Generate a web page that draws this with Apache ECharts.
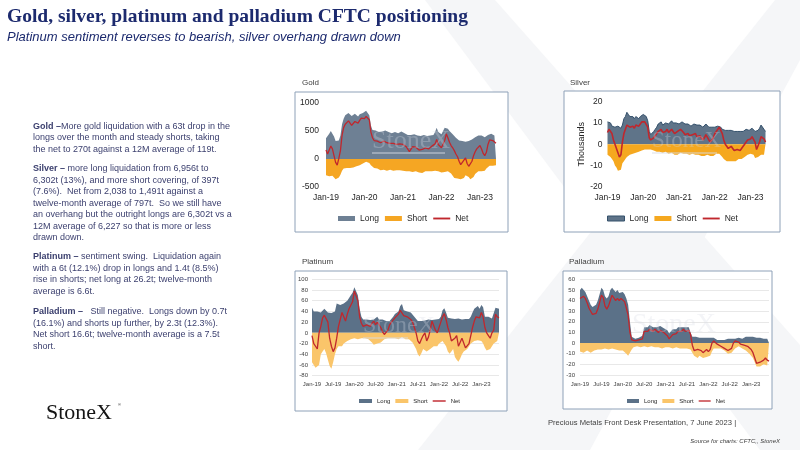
<!DOCTYPE html>
<html><head><meta charset="utf-8">
<script src="https://cdn.jsdelivr.net/npm/echarts@6/dist/echarts.min.js"></script>
<style>html,body{margin:0;padding:0;background:#fff}#c{width:800px;height:450px}</style>
</head><body><div id="c"></div>
<script>
// ---------- categories (semi-monthly, Jan-2019 .. Jun-2023) ----------
const monthNames = ['Jan','Feb','Mar','Apr','May','Jun','Jul','Aug','Sep','Oct','Nov','Dec'];
const categories = [];
for (let y = 19; y <= 23; y++) {
  for (let m = 0; m < 12; m++) {
    if (y === 23 && m > 5) break;
    categories.push(monthNames[m] + '-' + y);
    if (!(y === 23 && m === 5)) categories.push(monthNames[m] + '-' + y + ' b');
  }
}
const yearTicks = ['Jan-19','Jan-20','Jan-21','Jan-22','Jan-23'];
const halfYearTicks = ['Jan-19','Jul-19','Jan-20','Jul-20','Jan-21','Jul-21','Jan-22','Jul-22','Jan-23'];

// ---------- Gold (tonnes) ----------
const goldLong = [
  370,390,450,500,470,400,320,300,330,420,620,720,780,760,820,800,770,780,810,790,760,800,830,820,
  850,860,840,780,600,520,500,510,490,480,470,490,500,510,490,480,470,460,490,480,470,460,480,490,
  470,460,440,430,420,430,450,440,430,420,400,410,420,430,420,410,400,420,450,430,480,560,480,460,
  440,460,560,590,540,500,470,440,410,380,350,330,340,320,300,310,300,320,330,350,370,390,400,420,
  430,420,400,390,400,430,440,450,430,420,410];
const goldShort = [
  -290,-300,-310,-290,-300,-330,-360,-380,-330,-280,-210,-170,-170,-160,-150,-160,-170,-150,-140,-130,-120,-110,-100,-80,
  -60,-50,-60,-70,-110,-140,-160,-180,-170,-190,-200,-180,-190,-200,-210,-200,-190,-200,-210,-220,-200,-210,-200,-210,
  -210,-200,-220,-230,-220,-210,-230,-240,-220,-210,-240,-260,-250,-240,-220,-230,-220,-210,-220,-230,-210,-200,-220,-230,
  -240,-250,-230,-210,-220,-240,-260,-300,-340,-370,-350,-330,-360,-380,-340,-290,-280,-320,-360,-370,-320,-270,-240,-220,
  -200,-220,-240,-210,-170,-140,-120,-110,-120,-110,-110];
const goldNet = [
  160,90,120,230,180,60,-60,-110,10,150,420,560,620,600,680,640,600,630,670,660,640,690,730,740,
  720,760,780,700,480,380,330,350,320,300,290,310,320,300,290,300,280,260,280,280,260,250,270,270,
  260,250,220,200,130,150,220,200,210,200,160,150,170,200,200,180,180,210,230,200,270,350,260,230,
  200,210,330,450,380,300,240,200,150,90,40,-40,-100,-60,-20,20,-80,-130,-120,-40,60,130,180,210,
  240,180,100,60,120,260,340,350,330,320,280];

// ---------- Silver (thousand tonnes) ----------
const silverLong = [
  10.5,11,10,8.5,8,8,8,8.5,8,7.5,9,12,13,15,14,13,12.5,13,12,13,12.5,12,13,13.5,
  14,13.5,13,11,6,4.5,5,6,7,8,9.5,10,10.5,9,9.5,10,10.5,9.5,10,11,10,9.5,10,10.5,
  9.5,10,10.5,10,9.5,9,9.5,9,8.5,9,9.5,10,9,8.5,9,8.5,8,8.5,9.5,9,8,7.5,8,8.5,
  8,7.5,8.5,9,8,7,7,6.5,6,6.5,7,6.5,7,6,5.5,6,6.5,6,5.5,6,6.5,7,7,6.5,
  7,7.5,7,6,5.5,6.5,7.5,9,8.5,7,6];
const silverShort = [
  -5,-5.5,-6,-7,-8,-10,-11,-12.5,-13,-12,-9,-8,-7,-6,-5.5,-5,-5,-4.5,-4.5,-4,-4,-3.5,-3.5,-3,
  -3,-2.5,-3,-2.5,-2,-2.5,-3,-3,-3.5,-3.5,-4,-3.5,-3.5,-4,-4,-3.5,-4,-4.5,-4,-4,-4.5,-5,-4.5,-5,
  -4.5,-4,-4,-4.5,-5,-4.5,-4.5,-5,-5,-4.5,-4.5,-5,-5.5,-5,-5,-5.5,-6,-5.5,-5,-5,-5.5,-5.5,-6,-5.5,
  -5,-4.5,-4,-4.5,-5,-6,-7,-7.5,-8,-8.5,-8,-7.5,-8,-8.5,-8,-7.5,-7,-7.5,-7,-6.5,-6,-5.5,-5,-5,
  -4.5,-4.5,-5,-6.5,-7,-6,-5.5,-5,-5,-5,-5];
const silverNet = [
  5.5,7,6.5,5,2,0,-2,-4,-6,-5,1,5,7,9,8.5,8,7.5,8.5,7.5,9,8.5,8.5,9.5,10.5,
  11,10.5,10,8,3,2,2.5,3,4,4.5,6,6.5,7,5.5,5.5,6,7,5.5,5.5,7,6,5,5.5,6,
  6.5,7,6.5,5.5,4.5,4.5,5,4,3.5,4.5,5,5,3.5,3.5,4,3,2,3,4.5,4,2,1,1.5,3,
  5,6,7,8,7.5,5,2,0,-1,-2,-1.5,-1,-2,-3,-3.5,-2.5,-2,-3,-2.5,-1,0,1,2,2.5,
  2.5,3.5,4,1,-2.5,-3,1,3.5,4,2.5,1];

// ---------- Platinum (tonnes) ----------
const platLong = [
  47,40,38,40,42,38,40,45,42,38,35,37,36,40,55,58,52,50,55,52,60,58,70,75,
  85,88,70,45,30,25,22,25,28,24,22,25,28,30,25,22,25,24,22,23,22,24,30,35,
  38,40,50,54,42,45,40,42,38,35,30,28,22,24,22,20,23,22,25,22,24,22,25,23,
  26,30,42,46,38,28,25,27,25,26,25,27,26,25,27,26,28,26,30,38,45,48,50,45,
  52,48,30,28,30,28,27,30,47,47,45];
const platShort = [
  -55,-58,-65,-66,-60,-40,-35,-30,-38,-50,-62,-67,-55,-40,-30,-25,-22,-25,-20,-18,-15,-12,-12,-10,
  -10,-8,-12,-10,-10,-12,-10,-12,-12,-15,-18,-22,-24,-20,-22,-18,-15,-12,-10,-10,-8,-10,-12,-10,
  -10,-12,-10,-8,-10,-12,-10,-12,-15,-18,-20,-30,-40,-44,-38,-30,-28,-35,-32,-30,-28,-25,-22,-25,
  -20,-18,-15,-18,-25,-35,-39,-35,-30,-45,-50,-54,-48,-40,-35,-38,-30,-25,-20,-18,-15,-15,-14,-15,
  -15,-20,-28,-33,-35,-30,-25,-20,-18,-15,-16];
const platNet = [
  -5,-20,-25,-30,0,12,28,33,30,20,-10,-25,-35,-28,-10,12,25,38,30,22,35,45,42,58,
  78,80,60,30,18,12,10,15,18,12,18,22,15,20,18,10,2,-3,-5,5,15,20,22,28,
  30,35,42,45,32,35,30,32,25,20,10,0,-15,-20,-12,-5,0,-15,-8,5,22,20,5,0,
  10,20,30,36,25,10,0,-15,-18,-10,-5,-25,-22,-10,-8,-28,-30,-20,-5,10,22,30,32,28,
  38,30,10,0,-5,-10,0,5,35,30,28];

// ---------- Palladium (tonnes) ----------
const pallLong = [
  50,52,51,48,44,40,36,34,35,36,40,46,52,50,44,42,44,50,52,50,48,50,47,48,
  48,46,42,36,20,6,5,4,5,5,6,7,15,16,15,17,16,15,16,15,14,16,15,14,
  14,12,9,10,13,14,13,15,16,15,16,15,14,15,10,6,6,6,5,5,6,5,6,5,
  6,5,6,5,4,3,3,3,4,3,3,4,4,4,5,4,5,5,5,4,5,6,5,6,
  6,6,5,5,4,5,5,4,4,4,4];
const pallShort = [
  -8,-8,-9,-8,-7,-8,-9,-8,-7,-7,-6,-5,-6,-6,-5,-5,-6,-5,-5,-5,-6,-6,-7,-8,
  -7,-8,-10,-12,-11,-6,-4,-3,-3,-4,-4,-4,-3,-4,-4,-4,-3,-4,-4,-3,-4,-4,-5,-4,
  -4,-5,-4,-4,-5,-5,-4,-4,-5,-4,-5,-4,-5,-5,-6,-9,-12,-13,-14,-12,-13,-14,-15,-13,
  -14,-12,-8,-5,-4,-5,-4,-5,-6,-7,-8,-10,-10,-9,-7,-5,-4,-3,-4,-5,-6,-7,-8,-10,
  -11,-14,-18,-22,-23,-22,-21,-20,-19,-21,-22];
const pallNet = [
  42,43,44,42,38,33,30,27,26,28,32,38,45,43,35,32,35,40,45,44,40,42,40,42,
  41,39,33,26,10,3,3,2,3,3,4,4,11,12,11,13,12,11,13,12,10,12,11,10,
  10,7,4,5,8,9,9,11,12,11,13,11,10,12,8,-2,-7,-8,-6,-5,-7,-9,-8,-6,
  -8,-6,0,2,1,-1,-2,-3,-4,-5,-6,-7,-7,-5,0,2,2,1,-1,-2,-2,-1,-3,-4,
  -6,-9,-14,-19,-20,-18,-19,-16,-14,-16,-17];

// ---------- styling ----------
const SANS = '"Liberation Sans", Arial, sans-serif';
const NARROW = '"Liberation Sans Narrow", "Arial Narrow", "Liberation Sans", sans-serif';
const SERIF = '"Liberation Serif", "Times New Roman", serif';
const NAVY = '#1C2A6E';
const TXT = '#3B3F6E';
const C = {
  gLong: '#6E8094', gShort: '#F5A623',
  sLong: '#5F7489', sLine: '#34506B', sShort: '#F5A81F',
  pLong: '#5B7188', pShort: '#FAC56A',
  net: '#C0272D'
};

function xAxis(i, ticks, fs, font, color) {
  return {
    gridIndex: i, type: 'category', data: categories, boundaryGap: false,
    axisLine: {show: false}, axisTick: {show: false}, splitLine: {show: false},
    axisLabel: {
      interval: (idx, v) => ticks.includes(v), formatter: v => v,
      fontSize: fs, fontFamily: font, color: color, margin: 6, hideOverlap: false
    }
  };
}
function yAxis(i, min, max, interval, fs, font, color, margin, grid) {
  return {
    gridIndex: i, type: 'value', min: min, max: max, interval: interval,
    axisLine: {show: false}, axisTick: {show: false},
    splitLine: {show: grid, lineStyle: {color: '#D9D9D9', width: 0.6}},
    axisLabel: {fontSize: fs, fontFamily: font, color: color, margin: margin, formatter: v => String(v)}
  };
}
function area(name, i, data, fill, lineColor, lineWidth) {
  return {
    name: name, type: 'line', xAxisIndex: i, yAxisIndex: i, data: data,
    symbol: 'none', showSymbol: false, silent: true, z: 2,
    color: fill, itemStyle: {color: fill},
    lineStyle: {width: lineWidth || 0, color: lineColor || fill},
    areaStyle: {color: fill, opacity: 1}
  };
}
function net(name, i, data, w) {
  return {
    name: name, type: 'line', xAxisIndex: i, yAxisIndex: i, data: data,
    symbol: 'none', showSymbol: false, silent: true, z: 3,
    color: C.net, itemStyle: {color: C.net},
    lineStyle: {width: w, color: C.net}
  };
}
const legendLabel = n => n.slice(1);
function legend(left, top, prefix, longStyle, shortColor, iw, ih, gap, fs, font) {
  return {
    left: left, top: top, padding: 0, itemWidth: iw, itemHeight: ih, itemGap: gap,
    selectedMode: false, formatter: legendLabel,
    textStyle: {fontSize: fs, fontFamily: font, color: '#262626'},
    data: [
      {name: prefix + 'Long', icon: 'rect', itemStyle: longStyle},
      {name: prefix + 'Short', icon: 'rect', itemStyle: {color: shortColor}},
      {name: prefix + 'Net', icon: 'path://M0,0H20V2.2H0Z', itemStyle: {color: C.net}}
    ]
  };
}
function txt(x, y, text, size, opts) {
  opts = opts || {};
  return {
    type: 'text', z: opts.z || 5, silent: true,
    style: Object.assign({
      x: x, y: y, text: text, fontSize: size, fontFamily: opts.family || SANS,
      fontWeight: opts.weight || 'normal', fontStyle: opts.style || 'normal',
      fill: opts.fill || TXT, align: opts.align || 'left', textAlign: opts.align || 'left',
      verticalAlign: opts.va || 'middle', textVerticalAlign: opts.va || 'middle'
    }, opts.extra || {})
  };
}
function para(x, y, text) {
  return {
    type: 'text', z: 5, silent: true,
    style: {
      x: x, y: y, text: text, fontSize: 9, fontFamily: SANS, fill: TXT,
      lineHeight: 11.5, align: 'left', textAlign: 'left', verticalAlign: 'top', textVerticalAlign: 'top',
      rich: {b: {fontSize: 9, fontFamily: SANS, fontWeight: 'bold', fill: TXT, lineHeight: 11.5}}
    }
  };
}
function box(x, y, w, h) {
  return {type: 'rect', z: -1, silent: true, shape: {x: x, y: y, width: w, height: h},
          style: {fill: '#ffffff', stroke: '#8EA1B8', lineWidth: 1}};
}
function poly(points) {
  return {type: 'polygon', z: -2, silent: true, shape: {points: points}, style: {fill: '#F5F6F8'}};
}
function mark(x, y, size) {
  return txt(x, y, 'StoneX', size, {family: SERIF, fill: 'rgba(215,220,229,0.3)', z: 10});
}
function bar(x, y, w) {
  return {type: 'rect', z: 10, silent: true, shape: {x: x, y: y, width: w, height: 2},
          style: {fill: 'rgba(215,220,229,0.45)'}};
}

const graphics = [
  // faint background logo shapes
  poly([[425,0],[495,0],[800,345],[800,450],[760,450]]),
  poly([[775,0],[800,0],[800,60],[590,450],[418,450]]),
  // titles
  txt(7, 17, 'Gold, silver, platinum and palladium CFTC positioning', 19.5, {family: SERIF, weight: 'bold', fill: NAVY}),
  txt(7, 37, 'Platinum sentiment reverses to bearish, silver overhang drawn down', 13, {style: 'italic', fill: NAVY}),
  // commentary
  para(33, 120.5, '{b|Gold –}More gold liquidation with a 63t drop in the\nlongs over the month and steady shorts, taking\nthe net to 270t against a 12M average of 119t.'),
  para(33, 163, '{b|Silver –} more long liquidation from 6,956t to\n6,302t (13%), and more short covering, of 397t\n(7.6%).  Net from 2,038 to 1,491t against a\ntwelve-month average of 797t.  So we still have\nan overhang but the outright longs are 6,302t vs a\n12M average of 6,227 so that is more or less\ndrawn down.'),
  para(33, 251, '{b|Platinum –} sentiment swing.  Liquidation again\nwith a 6t (12.1%) drop in longs and 1.4t (8.5%)\nrise in shorts; net long at 26.2t; twelve-month\naverage is 6.6t.'),
  para(33, 306, '{b|Palladium –}   Still negative.  Longs down by 0.7t\n(16.1%) and shorts up further, by 2.3t (12.3%).\nNet short 16.6t; twelve-month average is a 7.5t\nshort.'),
  // logo + footer
  txt(46, 413, 'StoneX', 22, {family: SERIF, fill: '#141414'}),
  txt(118, 405, '®', 4, {fill: '#141414'}),
  txt(548, 423, 'Precious Metals Front Desk Presentation, 7 June 2023 |', 7.6, {family: NARROW, fill: '#404040'}),
  txt(780, 441, 'Source for charts: CFTC,, StoneX', 6, {family: NARROW, style: 'italic', fill: '#404040', align: 'right'}),
  // chart boxes
  box(295, 92, 213, 140), box(564, 91, 216, 141), box(295, 271, 212, 140), box(563, 271, 209, 138),
  // chart titles
  txt(302, 83, 'Gold', 8, {fill: '#404040'}),
  txt(570, 83, 'Silver', 8, {fill: '#404040'}),
  txt(302, 262, 'Platinum', 8, {fill: '#404040'}),
  txt(569, 262, 'Palladium', 8, {fill: '#404040'}),
  // watermarks
  mark(372, 141, 26), bar(372, 152, 73),
  mark(652, 141, 23), bar(652, 152, 65),
  mark(363, 326, 24), bar(363, 337, 45),
  mark(632, 325, 28)
];

const option = {
  animation: false,
  backgroundColor: '#ffffff',
  grid: [
    {left: 326, top: 103, width: 170, height: 84, containLabel: false, outerBoundsMode: 'none'},
    {left: 607.5, top: 101.7, width: 158, height: 85, containLabel: false, outerBoundsMode: 'none'},
    {left: 312, top: 279.3, width: 187, height: 96.4, containLabel: false, outerBoundsMode: 'none'},
    {left: 580, top: 279.3, width: 189, height: 95.7, containLabel: false, outerBoundsMode: 'none'}
  ],
  xAxis: [
    xAxis(0, yearTicks, 8.5, SANS, '#262626'),
    xAxis(1, yearTicks, 8.5, SANS, '#262626'),
    xAxis(2, halfYearTicks, 6, NARROW, '#404040'),
    xAxis(3, halfYearTicks, 6, NARROW, '#404040')
  ],
  yAxis: [
    yAxis(0, -500, 1000, 500, 8.5, SANS, '#262626', 7, false),
    Object.assign(yAxis(1, -20, 20, 10, 8.5, SANS, '#262626', 5, false),
      {name: 'Thousands', nameLocation: 'middle', nameGap: 21, nameRotate: 90,
       nameTextStyle: {fontSize: 9, fontFamily: SANS, color: '#262626'}}),
    yAxis(2, -80, 100, 20, 6, NARROW, '#404040', 4, true),
    yAxis(3, -30, 60, 10, 6, NARROW, '#404040', 5, true)
  ],
  legend: [
    legend(338, 214, 'g', {color: C.gLong}, C.gShort, 17, 5, 6, 8.5, SANS),
    legend(607, 214, 's', {color: C.sLong, borderColor: C.sLine, borderWidth: 1}, C.sShort, 17, 5, 6, 8.5, SANS),
    legend(359, 398, 'p', {color: C.pLong}, C.pShort, 13, 4, 5, 6, NARROW),
    legend(627, 398, 'd', {color: C.pLong}, C.pShort, 12, 4, 5, 6, NARROW)
  ],
  series: [
    area('gLong', 0, goldLong, C.gLong), area('gShort', 0, goldShort, C.gShort), net('gNet', 0, goldNet, 1.3),
    area('sLong', 1, silverLong, C.sLong, C.sLine, 1), area('sShort', 1, silverShort, C.sShort), net('sNet', 1, silverNet, 1.6),
    area('pLong', 2, platLong, C.pLong), area('pShort', 2, platShort, C.pShort), net('pNet', 2, platNet, 1.3),
    area('dLong', 3, pallLong, C.pLong), area('dShort', 3, pallShort, C.pShort), net('dNet', 3, pallNet, 1.3)
  ],
  graphic: {elements: graphics}
};
const chart = echarts.init(document.getElementById('c'));
chart.setOption(option);
</script></body></html>
